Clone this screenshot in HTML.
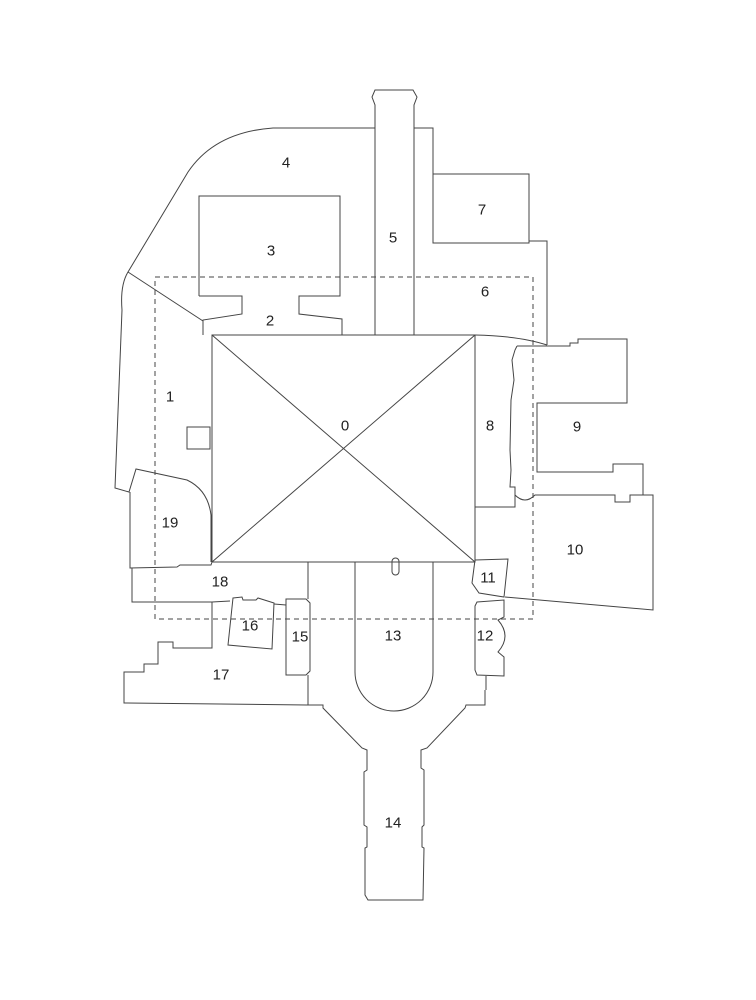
<!DOCTYPE html>
<html><head><meta charset="utf-8"><style>
html,body{margin:0;padding:0;background:#fff;}
svg{display:block;}
text{font-family:"Liberation Sans",sans-serif;font-size:15px;fill:#222;text-anchor:middle;dominant-baseline:central;}
</style></head><body>
<svg width="756" height="1000" viewBox="0 0 756 1000" xmlns="http://www.w3.org/2000/svg">
<g fill="none" stroke="#444" stroke-width="1">
<rect x="155" y="277" width="378" height="342" stroke-dasharray="5,4"/>
<rect x="212" y="335" width="263" height="227"/>
<line x1="212" y1="335" x2="475" y2="562"/>
<line x1="475" y1="335" x2="212" y2="562"/>
<path d="M375,128 L273,128 Q215,132 188,172 L128,272 Q120,285 122,310 L115,488 L129,492 L136,469 L187,480 Q208,490 211,515 L211,562"/>
<line x1="128" y1="272" x2="203" y2="321"/>
<path d="M199,296 L199,196 L340,196 L340,296 L299,296 L299,314 L342,319 L342,335"/>
<path d="M199,296 L242,296 L242,314 L203,320 L203,335"/>
<path d="M375,335 L375,105 L372,97 L375,90 L413,90 L417,97 L414,105 L414,335"/>
<path d="M414,128 L433,128 L433,243 L529,243 L529,241 L547,241 L547,345"/>
<rect x="433" y="174" width="96" height="69"/>
<path d="M475,335 Q520,336 547,345"/>
<path d="M517,346 L570,346 L570,343 L578,343 L578,339 L627,339 L627,403 L537,403 L537,472 L613,472 L613,464 L643,464 L643,495"/>
<path d="M517,346 L515,350 L512,360 L514,380 L511,400 L510,450 L511,470 L510,487 L515,487 L515,507 L475,507"/>
<path d="M515,495 Q525,505 535,495 L615,495 L615,502 L630,502 L630,495 L653,495 L653,610 L505,597"/>
<path d="M475,560 L508,559 L504,597 L479,593 L472,583 Z"/>
<path d="M477,602 L504,600 L504,617 L498,620 Q512,636 498,652 L504,657 L504,676 L477,675 L475,670 L475,606 Z"/>
<line x1="486" y1="676" x2="486" y2="690"/>
<path d="M355,562 L355,672 A39,39 0 0 0 433,672 L433,562"/>
<rect x="392" y="558" width="7" height="17" rx="3.5"/>
<path d="M307,705 L323,705 L323,708 L362,748 L367,750 L367,770 L364,772 L364,825 L367,827 L367,847 L365,848 L365,895 L368,900 L423,900 L424,848 L422,847 L422,827 L424,825 L424,770 L421,768 L421,750 L427,748 L465,708 L466,705 L485,705 L485,690"/>
<path d="M286,599 L306,599 L310,603 L310,671 L306,675 L286,675 Z"/>
<line x1="308" y1="562" x2="308" y2="599"/>
<line x1="308" y1="675" x2="308" y2="705"/>
<path d="M233,598 L242,597 L243,600 L256,600 L258,598 L274,603 L272,649 L228,645 Z"/>
<line x1="274" y1="604" x2="286" y2="605"/>
<path d="M130,492 L130,568 L177,567 L180,565 L211,565 L212,562"/>
<path d="M132,568 L132,602 L212,602 L230,601"/>
<path d="M212,602 L212,648 L173,648 L173,642 L158,642 L158,664 L144,664 L144,672 L124,672 L124,703 L307,705"/>
<rect x="187" y="427" width="23" height="22"/>
</g>
<text x="345" y="426">0</text>
<text x="170" y="397">1</text>
<text x="270" y="321">2</text>
<text x="271" y="251">3</text>
<text x="286" y="163">4</text>
<text x="393" y="238">5</text>
<text x="485" y="292">6</text>
<text x="482" y="210">7</text>
<text x="490" y="426">8</text>
<text x="577" y="427">9</text>
<text x="575" y="550">10</text>
<text x="488" y="578">11</text>
<text x="485" y="636">12</text>
<text x="393" y="636">13</text>
<text x="393" y="823">14</text>
<text x="300" y="637">15</text>
<text x="250" y="626">16</text>
<text x="221" y="675">17</text>
<text x="220" y="582">18</text>
<text x="170" y="523">19</text>
</svg>
</body></html>
